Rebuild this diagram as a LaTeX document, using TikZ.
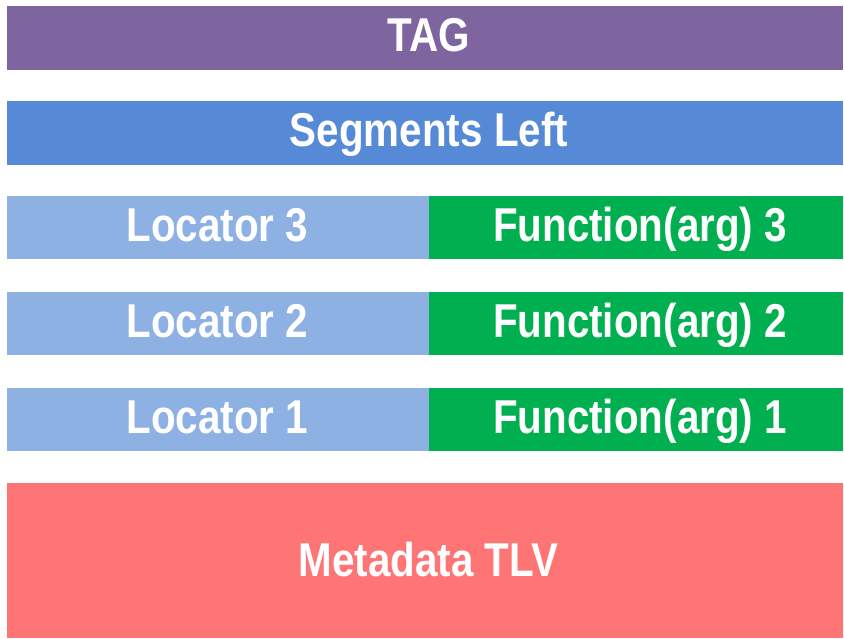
\documentclass[tikz,border=0pt]{standalone}
\usepackage{fontspec}
\setmainfont{Liberation Sans}[FakeStretch=0.85]
\definecolor{tagpurple}{HTML}{7F65A0}
\definecolor{segblue}{HTML}{568AD6}
\definecolor{locblue}{HTML}{8DB1E2}
\definecolor{fungreen}{HTML}{00B050}
\definecolor{metared}{HTML}{FF7474}
\tikzset{
  field/.style={draw=none, inner sep=0pt, outer sep=0pt, text=white, anchor=base,
    font=\fontsize{47.5}{50}\selectfont\bfseries},
}
\begin{document}
\begin{tikzpicture}[x=1pt, y=-1pt]
\useasboundingbox (0,0) rectangle (844,639);
% header fields
\fill[tagpurple] (6.5,6) rectangle (843,70);
\node[field] (tag) at (429,52) {TAG};
\fill[segblue] (6.5,101) rectangle (843,165);
\node[field] (seg) at (429,147) {Segments Left};
% segment list: locator and function per row
\foreach \n/\top in {3/196, 2/292, 1/388} {
  \fill[locblue] (6.5,\top) rectangle (429,\top+63);
  \fill[fungreen] (429,\top) rectangle (843,\top+63);
  \node[field] (loc\n) at (217.5,\top+45.5) {Locator \n};
  \node[field] (fun\n) at (640,\top+45.5) {Function(arg) \n};
}
% trailing metadata
\fill[metared] (6.5,483) rectangle (843,638);
\node[field] (meta) at (428.5,576.5) {Metadata TLV};
\end{tikzpicture}
\end{document}
